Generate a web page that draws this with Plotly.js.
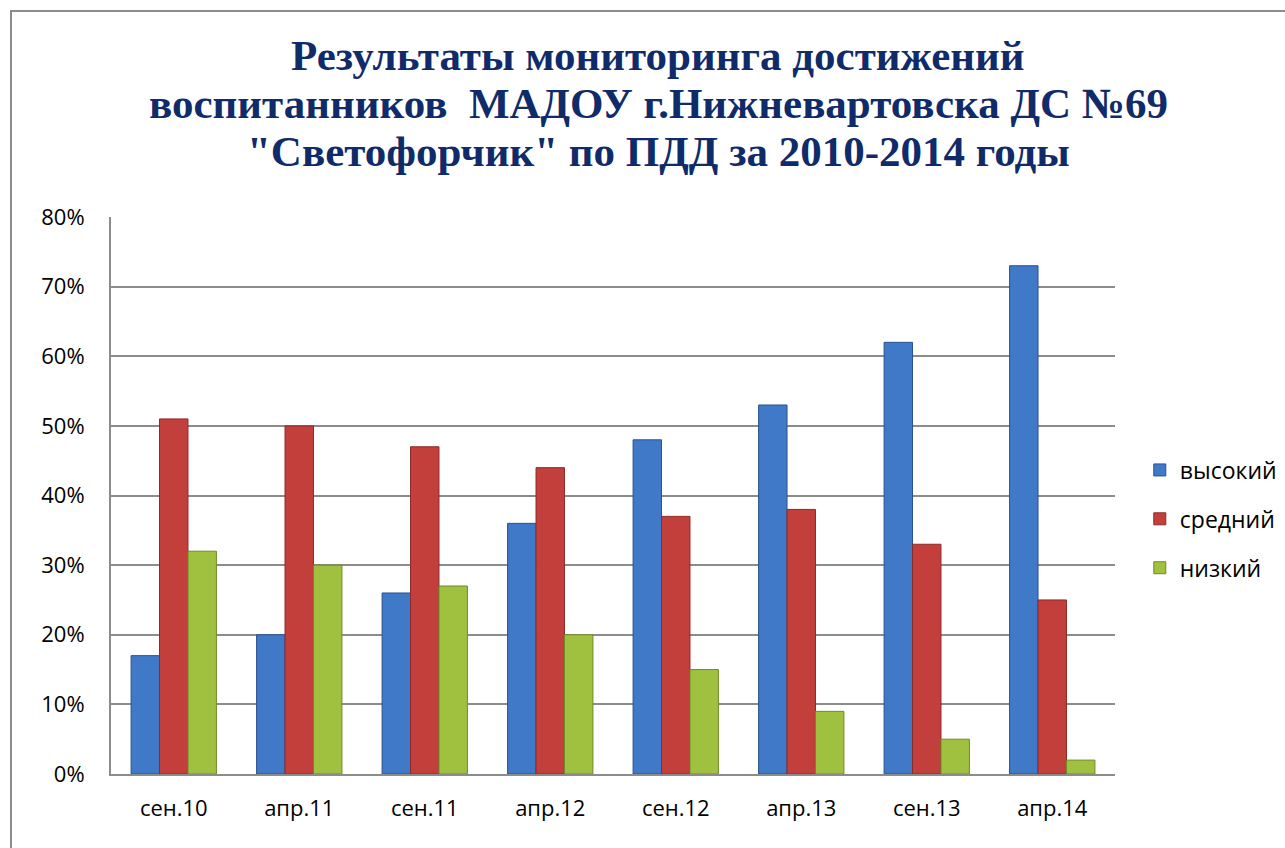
<!DOCTYPE html>
<html>
<head>
<meta charset="utf-8">
<script src="https://cdn.plot.ly/plotly-3.0.1.min.js"></script>
<style>
html,body{margin:0;padding:0;background:#fff;}
#wrap{position:relative;width:1285px;height:848px;overflow:hidden;}
#chart{position:absolute;left:0;top:0;width:1285px;height:848px;}
#frame{position:absolute;left:10px;top:10px;width:1300px;height:860px;border:2px solid #8c8c8c;pointer-events:none;box-sizing:border-box;}
</style>
</head>
<body>
<div id="wrap"><div id="chart"></div><div id="frame"></div></div>
<script>
const categories = ["сен.10","апр.11","сен.11","апр.12","сен.12","апр.13","сен.13","апр.14"];
const seriesNames = ["высокий","средний","низкий"];
const high = [0.17,0.20,0.26,0.36,0.48,0.53,0.62,0.73];
const mid  = [0.51,0.50,0.47,0.44,0.37,0.38,0.33,0.25];
const low  = [0.32,0.30,0.27,0.20,0.15,0.09,0.05,0.02];
const yTickVals = [0,0.1,0.2,0.3,0.4,0.5,0.6,0.7,0.8];
const yTickText = ["0%","10%","20%","30%","40%","50%","60%","70%","80%"];
const titleLines = [
  "Результаты мониторинга достижений",
  "воспитанников  МАДОУ г.Нижневартовска ДС №69",
  "\"Светофорчик\" по ПДД за 2010-2014 годы"
];

const colors = ["#4079c8","#c23f3c","#9fc13f"];
const edges = ["#2a5190","#8c2a28","#6f8a2a"];
const values = [high, mid, low];

const traces = values.map((v,i)=>({
  type:"bar",
  x:categories,
  y:v,
  name:seriesNames[i],
  legendgroup:"g"+i,
  marker:{color:colors[i], line:{color:edges[i], width:1}},
  hoverinfo:"x+y+name"
}));

const titleY = [1.290, 1.204, 1.118];
const annotations = titleLines.map((t,i)=>({
  text:t, xref:"paper", yref:"paper", x:0.545, y:titleY[i],
  xanchor:"center", yanchor:"middle", showarrow:false,
  font:{family:"Liberation Serif, Times New Roman, serif", size:43, color:"#0f2b69", weight:"bold"}
}));

const layout = {
  width:1285, height:848,
  margin:{l:111, r:170, t:217, b:74},
  paper_bgcolor:"#ffffff",
  plot_bgcolor:"#ffffff",
  barmode:"group",
  bargap:0.32,
  bargroupgap:0,
  font:{family:"Open Sans, Liberation Sans, sans-serif", color:"#000000"},
  annotations:annotations,
  xaxis:{
    type:"category",
    showline:true, linecolor:"#8c8c8c", linewidth:2,
    ticks:"", tickfont:{size:22, color:"#000"}, ticklabelstandoff:14,
    showgrid:false, zeroline:false
  },
  yaxis:{
    range:[0,0.8],
    tickvals:yTickVals, ticktext:yTickText,
    tickfont:{size:22, color:"#000"}, ticklabelstandoff:20,
    showline:true, linecolor:"#8c8c8c", linewidth:2,
    showgrid:true, gridcolor:"#8c8c8c", gridwidth:1.5,
    zeroline:false, ticks:"", ticklen:0, automargin:false
  },
  legend:{
    xref:"container", yref:"container",
    x:0.887, xanchor:"left", y:0.388, yanchor:"middle",
    font:{size:23, color:"#000"},
    traceorder:"grouped", tracegroupgap:16,
    itemwidth:30, bgcolor:"rgba(0,0,0,0)"
  },
  showlegend:true
};

Plotly.newPlot("chart", traces, layout, {displayModeBar:false});
</script>
</body>
</html>
